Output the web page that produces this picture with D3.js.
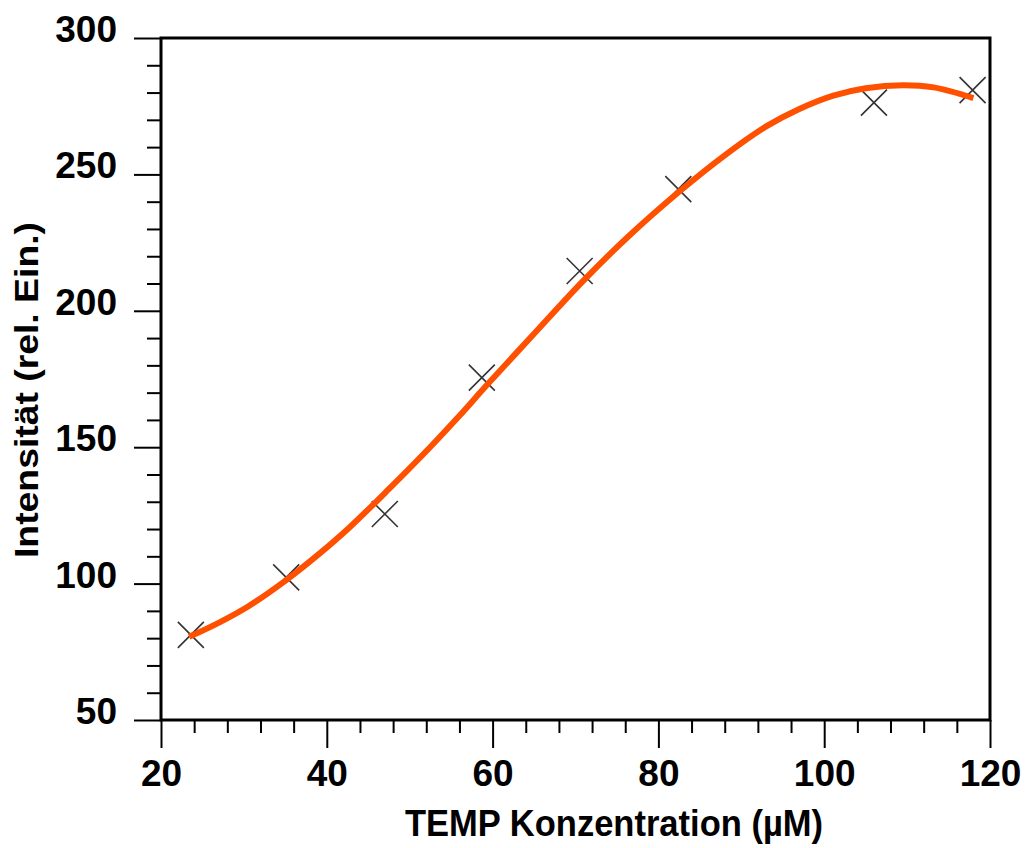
<!DOCTYPE html>
<html>
<head>
<meta charset="utf-8">
<script src="https://cdn.jsdelivr.net/npm/d3@7"></script>
<style>
  html, body { margin: 0; padding: 0; background: #fff; }
  svg { display: block; }
  text { font-family: "Liberation Sans", Arial, sans-serif; font-weight: bold; fill: #000; }
</style>
</head>
<body>
<svg id="chart" width="1026" height="848"></svg>
<script>
// Measured data points (TEMP concentration in µM, intensity in rel. units)
const pointX = [23.6, 35.1, 47.0, 58.7, 70.5, 82.4, 106.0, 117.9];
const pointY = [81.2, 102.3, 125.5, 175.5, 214.6, 244.6, 276.3, 280.9];

// Fitted curve
const curveX = [23.4, 27.0, 30.6, 35.1, 39.0, 42.7, 47.5, 52.4, 56.0, 59.2, 65.0, 70.9, 76.5, 82.6, 88.0, 93.0, 97.0, 101.1, 105.0, 109.5, 113.2, 118.0];
const curveY = [80.5, 85.7, 91.8, 101.3, 110.7, 120.5, 134.7, 149.8, 161.5, 172.4, 191.6, 210.9, 227.6, 243.9, 257.0, 267.6, 274.0, 278.9, 281.6, 282.7, 281.9, 278.0];

const xTicks = [20, 40, 60, 80, 100, 120];
const yTicks = [50, 100, 150, 200, 250, 300];
const xMinorStep = 4;
const yMinorStep = 10;

const xTitle = "TEMP Konzentration (µM)";
const yTitle = "Intensität (rel. Ein.)";

const svg = d3.select("#chart");
const x = d3.scaleLinear().domain([20, 120]).range([161, 990]);
const y = d3.scaleLinear().domain([50, 300]).range([720, 38]);

const xMinor = d3.range(20, 120.001, xMinorStep).filter(v => !xTicks.includes(v));
const yMinor = d3.range(50, 300.001, yMinorStep).filter(v => !yTicks.includes(v));

// Minor ticks
svg.append("g").attr("transform", `translate(0,${y(50)})`)
  .call(d3.axisBottom(x).tickValues(xMinor).tickSize(13).tickFormat(""))
  .call(g => g.select(".domain").remove())
  .call(g => g.selectAll("line").attr("stroke", "#000").attr("stroke-width", 2));
svg.append("g").attr("transform", `translate(${x(20)},0)`)
  .call(d3.axisLeft(y).tickValues(yMinor).tickSize(14).tickFormat(""))
  .call(g => g.select(".domain").remove())
  .call(g => g.selectAll("line").attr("stroke", "#000").attr("stroke-width", 2));

// Major ticks with labels
svg.append("g").attr("transform", `translate(0,${y(50)})`)
  .call(d3.axisBottom(x).tickValues(xTicks).tickSize(28).tickFormat(d3.format("d")))
  .call(g => g.select(".domain").remove())
  .call(g => g.selectAll("line").attr("stroke", "#000").attr("stroke-width", 2))
  .call(g => g.selectAll("text").attr("y", 66).attr("dy", null)
     .attr("font-size", 37).attr("fill", "#000"));
svg.append("g").attr("transform", `translate(${x(20)},0)`)
  .call(d3.axisLeft(y).tickValues(yTicks).tickSize(27).tickFormat(d3.format("d")))
  .call(g => g.select(".domain").remove())
  .call(g => g.selectAll("line").attr("stroke", "#000").attr("stroke-width", 2))
  .call(g => g.selectAll("text").attr("x", -44).attr("dy", null).attr("y", 3.5)
     .attr("font-size", 37).attr("fill", "#000"));

// Frame
svg.append("rect")
  .attr("x", x(20)).attr("y", y(300))
  .attr("width", x(120) - x(20)).attr("height", y(50) - y(300))
  .attr("fill", "none").attr("stroke", "#000").attr("stroke-width", 3);

// Cross markers
const pts = pointX.map((v, i) => ({ x: v, y: pointY[i] }));
svg.append("g").selectAll("path").data(pts).join("path")
  .attr("transform", d => `translate(${x(d.x)},${y(d.y)})`)
  .attr("d", "M-13,-13L13,13M-13,13L13,-13")
  .attr("stroke", "#333").attr("stroke-width", 1.6).attr("fill", "none");

// Fitted curve
const cpts = curveX.map((v, i) => [v, curveY[i]]);
svg.append("path")
  .datum(cpts)
  .attr("d", d3.line().x(d => x(d[0])).y(d => y(d[1])).curve(d3.curveCatmullRom.alpha(0.5)))
  .attr("fill", "none").attr("stroke", "#ff5000").attr("stroke-width", 6);

// Axis titles
svg.append("text")
  .attr("x", 614).attr("y", 836)
  .attr("text-anchor", "middle").attr("font-size", 37)
  .attr("textLength", 418).attr("lengthAdjust", "spacingAndGlyphs")
  .text(xTitle);
svg.append("text")
  .attr("transform", "translate(38,390) rotate(-90)")
  .attr("text-anchor", "middle").attr("font-size", 33)
  .attr("textLength", 336).attr("lengthAdjust", "spacingAndGlyphs")
  .text(yTitle);
</script>
</body>
</html>
